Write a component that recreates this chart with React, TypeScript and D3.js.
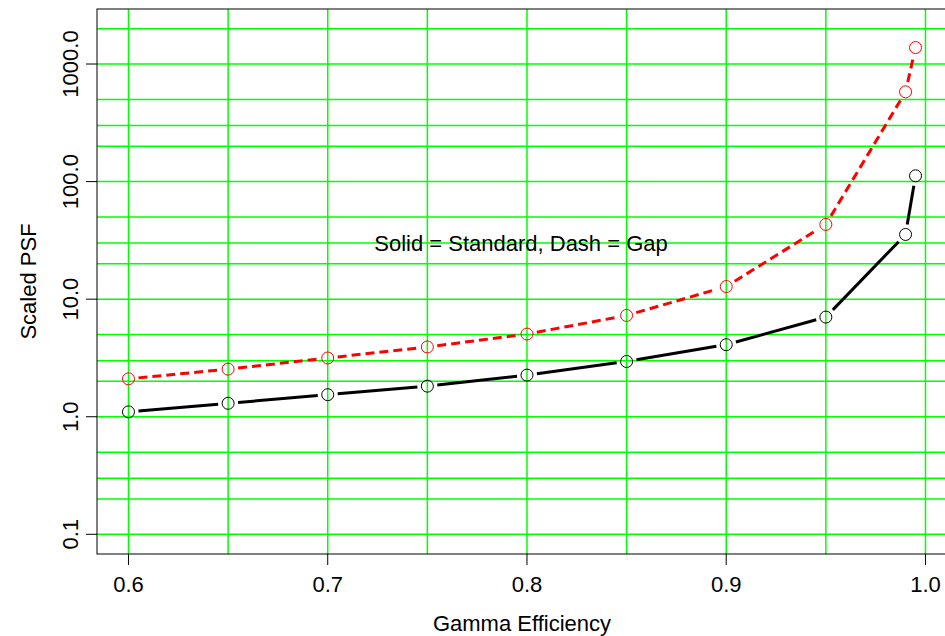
import React from "react";
import * as d3 from "d3";

const efficiency = [0.6, 0.65, 0.7, 0.75, 0.8, 0.85, 0.9, 0.95, 0.99, 0.995];
const standardPSF = [1.10, 1.30, 1.54, 1.82, 2.26, 2.95, 4.10, 7.04, 35.5, 112];
const gapPSF = [2.10, 2.54, 3.16, 3.92, 5.05, 7.27, 12.8, 43.2, 580, 1381];

const xTicks = [0.6, 0.7, 0.8, 0.9, 1.0];
const xTickLabels = ["0.6", "0.7", "0.8", "0.9", "1.0"];
const xGrid = [0.6, 0.65, 0.7, 0.75, 0.8, 0.85, 0.9, 0.95, 1.0];
const yTicks = [0.1, 1, 10, 100, 1000];
const yTickLabels = ["0.1", "1.0", "10.0", "100.0", "1000.0"];
const yGridMultipliers = [1, 2, 3, 5];
const yGridDecades = [-1, 0, 1, 2, 3];

const annotation = "Solid = Standard, Dash = Gap";
const annotationX = 0.797;
const annotationY = 30;

const W = 945;
const H = 636;
const left = 97;
const right = 947;
const top = 9;
const bottom = 554;
const FONT = "'Liberation Sans', Arial, Helvetica, sans-serif";

export default function App() {
  const x = d3.scaleLinear().domain([0.5842, 1.0108]).range([left, right]);
  const y = d3.scaleLog().domain([Math.pow(10, -1.1675), Math.pow(10, 3.468)]).range([bottom, top]);

  const yGrid: number[] = [];
  yGridDecades.forEach((d) => yGridMultipliers.forEach((m) => {
    const v = m * Math.pow(10, d);
    if (y(v) >= top && y(v) <= bottom) yGrid.push(v);
  }));

  const gapPx = 10;
  const segments = (vals: number[]) => {
    const segs: { x1: number; y1: number; x2: number; y2: number }[] = [];
    for (let i = 0; i < vals.length - 1; i++) {
      const ax = x(efficiency[i]), ay = y(vals[i]);
      const bx = x(efficiency[i + 1]), by = y(vals[i + 1]);
      const len = Math.hypot(bx - ax, by - ay);
      if (len <= 2 * gapPx) continue;
      const ux = (bx - ax) / len, uy = (by - ay) / len;
      segs.push({ x1: ax + ux * gapPx, y1: ay + uy * gapPx, x2: bx - ux * gapPx, y2: by - uy * gapPx });
    }
    return segs;
  };

  return (
    <svg width={W} height={H} style={{ position: "absolute", left: 0, top: 0, background: "#fff" }} fontFamily={FONT}>
      <rect x={0} y={0} width={W} height={H} fill="#fff" />
      <defs>
        <clipPath id="plotclip">
          <rect x={left} y={top} width={right - left} height={bottom - top} />
        </clipPath>
      </defs>
      <g clipPath="url(#plotclip)">
        {xGrid.map((v) => (
          <line key={"xg" + v} x1={x(v)} x2={x(v)} y1={top} y2={bottom} stroke="#00ff00" strokeWidth={1.5} />
        ))}
        {yGrid.map((v) => (
          <line key={"yg" + v} x1={left} x2={right} y1={y(v)} y2={y(v)} stroke="#00ff00" strokeWidth={1.5} />
        ))}
      </g>
      <text x={x(annotationX)} y={y(annotationY)} dy="0.36em" textAnchor="middle" fontSize={22} fill="#000">{annotation}</text>
      <g clipPath="url(#plotclip)">
        {segments(standardPSF).map((s, i) => (
          <line key={"s" + i} {...s} stroke="#000" strokeWidth={3} />
        ))}
        {segments(gapPSF).map((s, i) => (
          <line key={"g" + i} {...s} stroke="#ff0000" strokeWidth={3} strokeDasharray="9,5" />
        ))}
        {efficiency.map((e, i) => (
          <circle key={"cs" + i} cx={x(e)} cy={y(standardPSF[i])} r={6} fill="none" stroke="#000" strokeWidth={1} />
        ))}
        {efficiency.map((e, i) => (
          <circle key={"cg" + i} cx={x(e)} cy={y(gapPSF[i])} r={6} fill="none" stroke="#ff0000" strokeWidth={1} />
        ))}
      </g>
      <rect x={left} y={top} width={right - left} height={bottom - top} fill="none" stroke="#000" strokeWidth={1} />
      {xTicks.map((v, i) => (
        <g key={"xt" + v}>
          <line x1={x(v)} x2={x(v)} y1={bottom} y2={bottom + 11} stroke="#000" />
          <text x={x(v)} y={592} textAnchor="middle" fontSize={22} fill="#000">{xTickLabels[i]}</text>
        </g>
      ))}
      {yTicks.map((v, i) => (
        <g key={"yt" + v}>
          <line x1={left - 11} x2={left} y1={y(v)} y2={y(v)} stroke="#000" />
          <text transform={`translate(78,${y(v)}) rotate(-90)`} textAnchor="middle" fontSize={22} fill="#000">{yTickLabels[i]}</text>
        </g>
      ))}
      <text x={(left + right) / 2} y={631} textAnchor="middle" fontSize={22} fill="#000">Gamma Efficiency</text>
      <text transform={`translate(36,${(top + bottom) / 2}) rotate(-90)`} textAnchor="middle" fontSize={22} fill="#000">Scaled PSF</text>
    </svg>
  );
}
